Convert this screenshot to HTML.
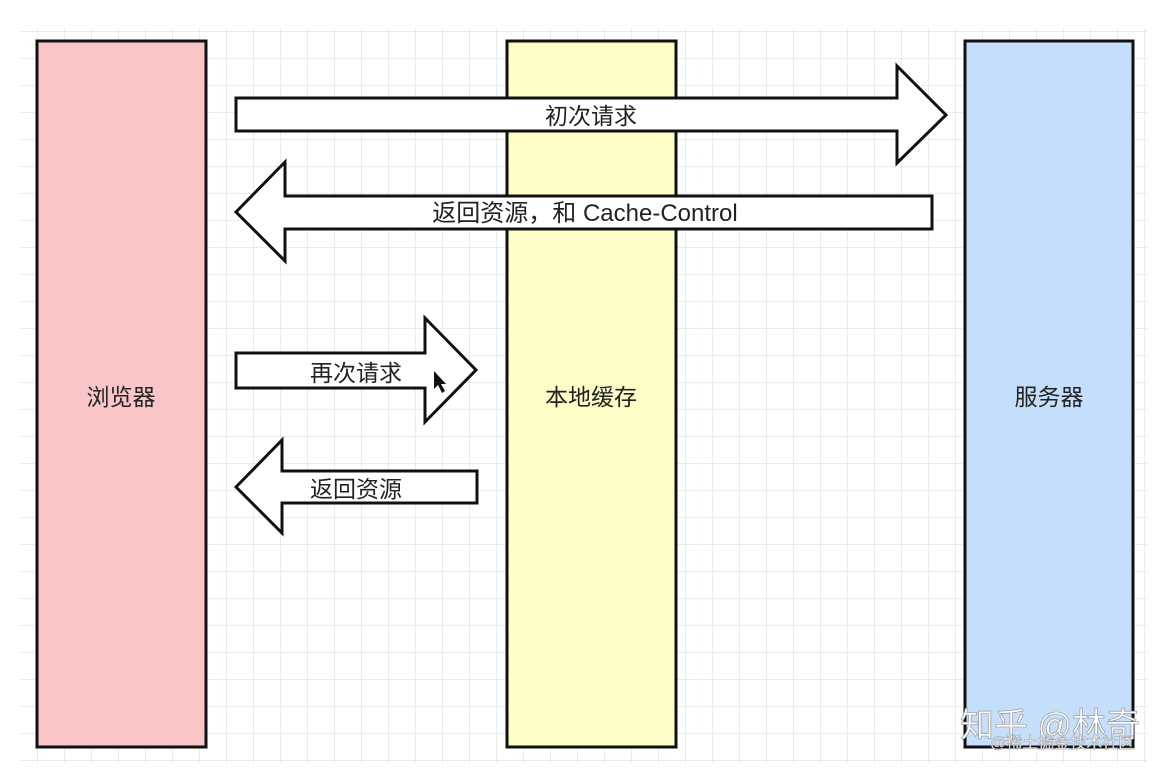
<!DOCTYPE html>
<html><head><meta charset="utf-8"><style>
html,body{margin:0;padding:0;background:#fff;width:1174px;height:775px;overflow:hidden}
text{font-family:"Liberation Sans","Noto Sans CJK SC",sans-serif}
</style></head><body>
<svg width="1174" height="775" xmlns="http://www.w3.org/2000/svg">
<defs>
<pattern id="g" x="10" y="4" width="27" height="27" patternUnits="userSpaceOnUse">
<path d="M0 0H27M0 0V27" stroke="#e0e0e0" stroke-width="1.3" fill="none"/>
</pattern>
</defs>
<rect x="20" y="28" width="1128" height="735" fill="url(#g)"/>
<g stroke="#111" stroke-width="3">
<rect x="37" y="41" width="169" height="706" fill="#f9c5c6"/>
<rect x="507" y="41" width="169" height="706" fill="#fefdc6"/>
<rect x="965" y="41" width="168" height="706" fill="#c5defb"/>
</g>
<g stroke="#111" stroke-width="3" fill="#fff" stroke-linejoin="miter">
<polygon points="236,98 897,98 897,66 946,115 897,163 897,131 236,131"/>
<polygon points="236,212 285,162 285,196 932,196 932,229 285,229 285,261"/>
<polygon points="236,353 425,353 425,318 476,370 425,422 425,388 236,388"/>
<polygon points="236,487 282,440 282,471 477,471 477,503 282,503 282,533"/>
</g>
<g fill="#222" font-size="23">
<text x="591" y="124" text-anchor="middle">初次请求</text>
<text x="585" y="221" text-anchor="middle" font-size="24">返回资源，和 Cache-Control</text>
<text x="356" y="381" text-anchor="middle">再次请求</text>
<text x="356" y="497" text-anchor="middle">返回资源</text>
<text x="121" y="405" text-anchor="middle">浏览器</text>
<text x="591" y="405" text-anchor="middle">本地缓存</text>
<text x="1049" y="405" text-anchor="middle">服务器</text>
</g>
<polygon points="434,371 434,389 438,385 442,393 445,391 441,384 446,384" fill="#111"/>
<text x="960" y="737" font-size="34" fill="#fff" stroke="#888" stroke-width="0.6">知乎 @林奇</text>
<text x="990" y="748" font-size="16" fill="#fff" stroke="#999" stroke-width="0.5">@稀土掘金技术社区</text>
</svg>
</body></html>
